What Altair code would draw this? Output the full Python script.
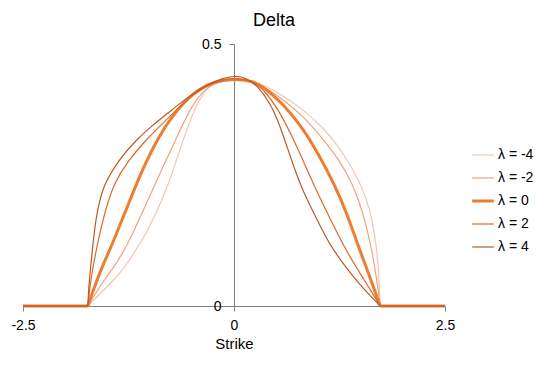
import altair as alt
import pandas as pd

# ---- data ----
title_text = ["Delta"]
lam_labels = ["λ = -4", "λ = -2", "λ = 0", "λ = 2", "λ = 4"]
colors = ["#f8c4ab", "#f3a17f", "#ed7d31", "#d8692c", "#bb5a24"]

edge = 1.732           # curves are zero outside +/- edge
x_lo, x_hi = -2.5, 2.5

x_m4 = [-1.732, -1.48, -1.30, -1.18, -1.05, -0.957, -0.862, -0.76, -0.66, -0.605, -0.466,
        -0.33, -0.18, 0.0, 0.20, 0.344, 0.542, 0.858, 1.135, 1.333, 1.491, 1.610, 1.669, 1.709, 1.732]
y_m4 = [0.0, 0.040, 0.072, 0.103, 0.135, 0.167, 0.199, 0.240, 0.290, 0.315, 0.378,
        0.416, 0.430, 0.434, 0.430, 0.422, 0.406, 0.371, 0.327, 0.282, 0.237, 0.186, 0.135, 0.084, 0.0]

x_m2 = [-1.732, -1.56, -1.42, -1.31, -1.18, -1.02, -0.85, -0.69, -0.54, -0.40, -0.25, 0.0,
        0.25, 0.54, 0.84, 1.06, 1.26, 1.415, 1.53, 1.61, 1.67, 1.705, 1.732]
y_m2 = [0.0, 0.045, 0.075, 0.103, 0.145, 0.202, 0.263, 0.318, 0.370, 0.405, 0.425, 0.434,
        0.428, 0.400, 0.360, 0.317, 0.276, 0.230, 0.177, 0.124, 0.073, 0.035, 0.0]

x_0 = [-1.732, -1.65, -1.57, -1.47, -1.40, -1.24, -1.08, -0.88, -0.73, -0.585, -0.43, -0.23, 0.0,
       0.23, 0.344, 0.582, 0.819, 1.00, 1.19, 1.33, 1.47, 1.60, 1.732]
y_0 = [0.0, 0.038, 0.072, 0.108, 0.135, 0.199, 0.263, 0.327, 0.362, 0.390, 0.413, 0.429, 0.434,
       0.429, 0.419, 0.386, 0.339, 0.290, 0.232, 0.180, 0.115, 0.060, 0.0]

x_p2 = [-1.732, -1.705, -1.67, -1.61, -1.53, -1.42, -1.26, -1.06, -0.86, -0.66, -0.47, -0.27, 0.0,
        0.20, 0.344, 0.542, 0.700, 0.858, 1.017, 1.175, 1.333, 1.531, 1.732]
y_p2 = [0.0, 0.040, 0.075, 0.125, 0.180, 0.235, 0.276, 0.314, 0.346, 0.378, 0.405, 0.425, 0.437,
        0.430, 0.416, 0.371, 0.320, 0.263, 0.206, 0.155, 0.104, 0.053, 0.0]

x_p4 = [-1.732, -1.72, -1.695, -1.655, -1.61, -1.55, -1.494, -1.376, -1.178, -0.98, -0.783, -0.585,
        -0.387, -0.189, 0.0, 0.15, 0.305, 0.463, 0.582, 0.700, 0.819, 0.977, 1.135, 1.333, 1.531, 1.732]
y_p4 = [0.0, 0.040, 0.080, 0.145, 0.190, 0.225, 0.244, 0.276, 0.314, 0.343, 0.368, 0.394,
        0.416, 0.432, 0.440, 0.436, 0.416, 0.378, 0.327, 0.269, 0.218, 0.167, 0.116, 0.072, 0.033, 0.0]

series = [(lam_labels[0], x_m4, y_m4), (lam_labels[1], x_m2, y_m2), (lam_labels[2], x_0, y_0),
          (lam_labels[3], x_p2, y_p2), (lam_labels[4], x_p4, y_p4)]

rows = []
for lam, xs, ys in series:
    for xv in (x_lo, -edge):
        rows.append({"lam": lam, "seg": "L", "strike": xv, "delta": 0.0})
    for xv, yv in zip(xs, ys):
        rows.append({"lam": lam, "seg": "C", "strike": xv, "delta": yv})
    for xv in (edge, x_hi):
        rows.append({"lam": lam, "seg": "R", "strike": xv, "delta": 0.0})
df = pd.DataFrame(rows)

legend = alt.Legend(title=None, orient="none", legendX=453, legendY=104,
                    symbolType="stroke", symbolSize=467, labelFontSize=14,
                    labelOffset=8, rowPadding=9, padding=0, labelColor="black",
                    labelFont="Liberation Sans",
                    symbolStrokeWidth=alt.ExprRef("datum.value === 'λ = 0' ? 3 : 1.2"))

lines = alt.Chart(df).mark_line(interpolate="basis").encode(
    x=alt.X("strike:Q", scale=alt.Scale(domain=[-2.5, 2.5], nice=False, zero=False),
            axis=alt.Axis(values=[-2.5, 0, 2.5], title="Strike", labelExpr="'' + datum.value",
                          tickSize=5, labelPadding=7, labelFontSize=14, titleFontSize=15,
                          titleFontWeight="normal", titlePadding=4, labelFlush=False,
                          domainColor="#7f7f7f", tickColor="#7f7f7f", grid=False,
                          labelColor="black", titleColor="black")),
    y=alt.Y("delta:Q", scale=alt.Scale(domain=[0, 0.5], nice=False),
            axis=alt.Axis(values=[0, 0.5], title=None, offset=-211, tickSize=5,
                          labelPadding=8, labelFontSize=14, labelFlush=False,
                          labelExpr="'' + datum.value",
                          domainColor="#7f7f7f", tickColor="#7f7f7f", grid=False,
                          labelColor="black")),
    color=alt.Color("lam:N", scale=alt.Scale(domain=lam_labels, range=colors), legend=legend),
    strokeWidth=alt.condition(alt.datum.lam == "λ = 0", alt.value(3), alt.value(1.2)),
    detail="seg:N",
)

title = alt.Chart(pd.DataFrame({"t": title_text})).mark_text(
    fontSize=18, font="Liberation Sans", baseline="alphabetic", align="center", color="black"
).encode(text="t:N", x=alt.value(251), y=alt.value(-18))

chart = alt.layer(lines, title).properties(
    width=422, height=262,
    autosize=alt.AutoSizeParams(type="none"),
    padding={"left": 15, "top": 36, "right": 95, "bottom": 52},
).configure(font="Liberation Sans").configure_view(stroke=None)

chart.save("out.html", embed_options={"renderer": "svg", "actions": False})
